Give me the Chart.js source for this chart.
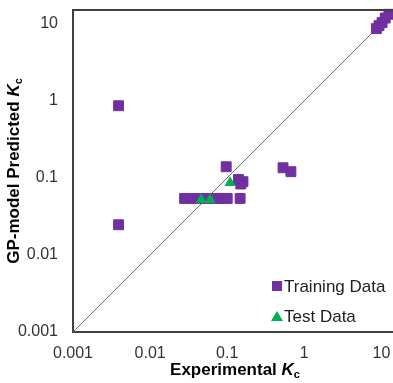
<!DOCTYPE html>
<html>
<head>
<meta charset="utf-8">
<script src="https://cdn.jsdelivr.net/npm/chart.js@4/dist/chart.umd.min.js"></script>
<style>
  html, body { margin: 0; padding: 0; background: #fff; overflow: hidden; }
  #wrap { width: 403px; height: 383px; }
</style>
</head>
<body>
<div id="wrap"><canvas id="kcChart" width="403" height="383"></canvas></div>
<script>
// experimental vs predicted Kc
const trainExp  = [0.0039, 0.0039, 0.028, 0.034, 0.042, 0.053, 0.068, 0.083, 0.10, 0.147, 0.097, 0.14, 0.16, 0.15, 0.53, 0.67, 8.6, 9.3, 10.2, 11.2, 12.5];
const trainPred = [0.86, 0.0246, 0.054, 0.054, 0.054, 0.054, 0.054, 0.054, 0.054, 0.054, 0.139, 0.095, 0.089, 0.083, 0.135, 0.12, 8.6, 9.4, 10.3, 11.8, 13.2];
const testExp   = [0.046, 0.060, 0.109];
const testPred  = [0.052, 0.052, 0.086];
const parityLine = [0.001, 15];
const tickValues = [0.001, 0.01, 0.1, 1, 10];

const purple = '#7030A0';
const green = '#00B050';
const axisColor = '#404040';

const toPoints = (xs, ys) => xs.map((x, i) => ({ x: x, y: ys[i] }));

// draws "<text> K" with subscript c
function drawKcTitle(ctx, text, cx, cy) {
  const fMain = 'bold 17px "Liberation Sans", Arial, sans-serif';
  const fK = 'italic bold 17px "Liberation Sans", Arial, sans-serif';
  const fSub = 'bold 11px "Liberation Sans", Arial, sans-serif';
  ctx.font = fMain; const w1 = ctx.measureText(text).width;
  ctx.font = fK; const w2 = ctx.measureText('K').width;
  ctx.font = fSub; const w3 = ctx.measureText('c').width;
  let x = cx - (w1 + w2 + w3) / 2;
  ctx.textBaseline = 'middle';
  ctx.textAlign = 'left';
  ctx.fillStyle = '#000';
  ctx.font = fMain; ctx.fillText(text, x, cy); x += w1;
  ctx.font = fK; ctx.fillText('K', x, cy); x += w2;
  ctx.font = fSub; ctx.fillText('c', x, cy + 5);
}

const extras = {
  id: 'extras',
  afterDraw(chart) {
    const ctx = chart.ctx;
    const a = chart.chartArea;
    ctx.save();
    // top border of plot
    ctx.strokeStyle = axisColor;
    ctx.lineWidth = 2;
    ctx.beginPath();
    ctx.moveTo(a.left, a.top);
    ctx.lineTo(a.right + 5, a.top);
    ctx.stroke();

    // axis titles
    drawKcTitle(ctx, 'Experimental ', 235, 370);
    ctx.save();
    ctx.translate(14, 171);
    ctx.rotate(-Math.PI / 2);
    drawKcTitle(ctx, 'GP-model Predicted ', 0, 0);
    ctx.restore();

    // legend
    ctx.fillStyle = purple;
    ctx.fillRect(272, 281, 10, 10);
    ctx.fillStyle = green;
    ctx.beginPath();
    ctx.moveTo(277, 311);
    ctx.lineTo(283, 321);
    ctx.lineTo(271, 321);
    ctx.closePath();
    ctx.fill();
    ctx.fillStyle = '#222';
    ctx.font = '17px "Liberation Sans", Arial, sans-serif';
    ctx.textAlign = 'left';
    ctx.textBaseline = 'middle';
    ctx.fillText('Training Data', 284, 287);
    ctx.fillText('Test Data', 284, 317);
    ctx.restore();
  }
};

const ctx = document.getElementById('kcChart').getContext('2d');
new Chart(ctx, {
  type: 'scatter',
  data: {
    datasets: [
      {
        label: 'Training Data',
        data: toPoints(trainExp, trainPred),
        pointStyle: 'rect',
        pointRadius: 7,
        backgroundColor: purple,
        borderColor: purple,
        borderWidth: 1,
        order: 2
      },
      {
        label: 'Test Data',
        data: toPoints(testExp, testPred),
        pointStyle: 'triangle',
        pointRadius: 6.5,
        backgroundColor: green,
        borderColor: green,
        borderWidth: 0,
        order: 1
      },
      {
        label: 'y = x',
        type: 'line',
        data: toPoints(parityLine, parityLine),
        borderColor: '#666',
        borderWidth: 1,
        pointRadius: 0,
        fill: false,
        order: 3
      }
    ]
  },
  options: {
    responsive: false,
    animation: false,
    clip: false,
    layout: { padding: { top: 10, right: 3, left: 0, bottom: 0 } },
    plugins: {
      legend: { display: false },
      tooltip: { enabled: false }
    },
    scales: {
      x: {
        type: 'logarithmic',
        min: 0.001,
        max: 15,
        afterBuildTicks: (scale) => { scale.ticks = tickValues.map(v => ({ value: v })); },
        afterFit: (scale) => { scale.height = 51; scale.paddingLeft = 0; scale.paddingRight = 0; },
        grid: { display: false, drawTicks: false },
        border: { display: true, color: axisColor, width: 2 },
        ticks: {
          color: '#333',
          padding: 12,
          maxRotation: 0,
          font: { family: '"Liberation Sans", Arial, sans-serif', size: 16 },
          callback: (v) => String(v)
        }
      },
      y: {
        type: 'logarithmic',
        min: 0.001,
        max: 15,
        afterBuildTicks: (scale) => { scale.ticks = tickValues.map(v => ({ value: v })); },
        afterFit: (scale) => { scale.width = 73; scale.paddingTop = 0; scale.paddingBottom = 0; },
        grid: { display: false, drawTicks: false },
        border: { display: true, color: axisColor, width: 2 },
        ticks: {
          color: '#333',
          padding: 15,
          font: { family: '"Liberation Sans", Arial, sans-serif', size: 16 },
          callback: (v) => String(v)
        }
      }
    }
  },
  plugins: [extras]
});
</script>
</body>
</html>
